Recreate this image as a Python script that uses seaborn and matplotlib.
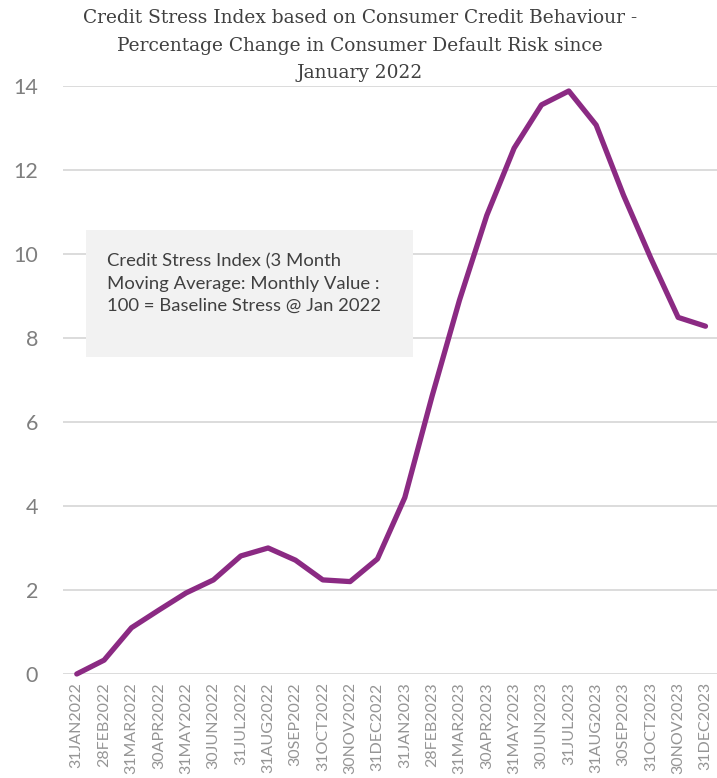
import matplotlib
matplotlib.use("Agg")
import matplotlib.pyplot as plt
import matplotlib.patches as mpatches
import seaborn as sns
import pandas as pd

months = ['31JAN2022', '28FEB2022', '31MAR2022', '30APR2022', '31MAY2022', '30JUN2022',
          '31JUL2022', '31AUG2022', '30SEP2022', '31OCT2022', '30NOV2022', '31DEC2022',
          '31JAN2023', '28FEB2023', '31MAR2023', '30APR2023', '31MAY2023', '30JUN2023',
          '31JUL2023', '31AUG2023', '30SEP2023', '31OCT2023', '30NOV2023', '31DEC2023']
stress = [0.0, 0.33, 1.10, 1.52, 1.93, 2.24, 2.81, 3.00, 2.71, 2.24, 2.20, 2.74,
          4.20, 6.62, 8.90, 10.92, 12.52, 13.55, 13.88, 13.07, 11.40, 9.90, 8.49, 8.28]
yticks = [0, 2, 4, 6, 8, 10, 12, 14]

title = ('Credit Stress Index based on Consumer Credit Behaviour -\n'
         'Percentage Change in Consumer Default Risk since\nJanuary 2022')
note = ('Credit Stress Index (3 Month\nMoving Average: Monthly Value :\n'
        '100 = Baseline Stress @ Jan 2022')

sns.set_style("white")
plt.rcParams['font.family'] = ['Lato', 'DejaVu Sans']

df = pd.DataFrame({'pos': range(len(months)), 'value': stress})

fig = plt.figure(figsize=(7.17, 7.78), dpi=100)
ax = fig.add_axes([0.088, 0.1337, 0.915, 0.7558])

sns.lineplot(data=df, x='pos', y='value', ax=ax, color='#8B2A83', linewidth=3.8)

ax.set_xlim(-0.5, 23.5)
ax.set_ylim(0, 14)
ax.set_yticks(yticks)
ax.set_yticklabels([str(t) for t in yticks], fontsize=15.5, color='#7f7f7f')
ax.set_xticks(range(len(months)))
ax.set_xticklabels(months, rotation=90, fontsize=11.5, color='#959595')
ax.tick_params(axis='y', length=0, pad=18)
ax.tick_params(axis='x', length=0, pad=6)
ax.set_xlabel('')
ax.set_ylabel('')
for y in yticks:
    ax.axhline(y, color='#d9d9d9', linewidth=1.3, zorder=0)
for s in ax.spines.values():
    s.set_visible(False)
ax.lines[0].set_clip_on(False)

fig.text(0.502, 0.988, title, ha='center', va='top', fontsize=13.4,
         family=['DejaVu Serif'], color='#404040', linespacing=1.66)

# grey note box
ax.add_patch(mpatches.Rectangle((0.035, 0.539), 0.4985, 0.216, transform=ax.transAxes,
                                facecolor='#f2f2f2', edgecolor='none', zorder=3))
ax.text(0.067, 0.716, note, transform=ax.transAxes, ha='left', va='top',
        fontsize=13.3, color='#404040', linespacing=1.5, zorder=4)

fig.savefig('out.png', dpi=100, facecolor='white')
